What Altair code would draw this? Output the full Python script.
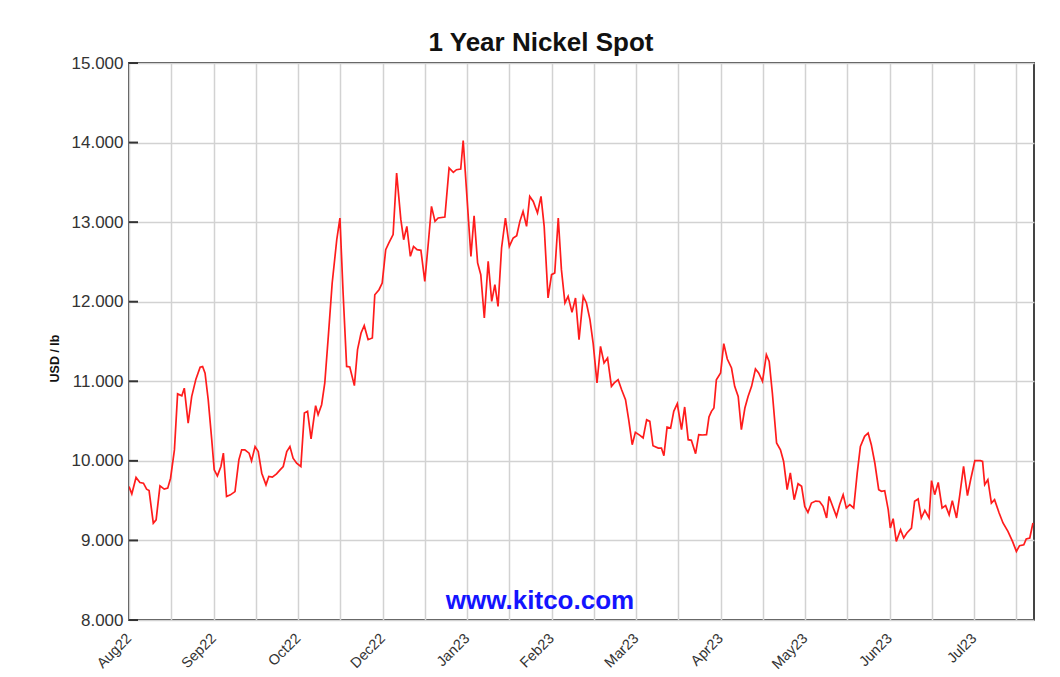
import altair as alt
import pandas as pd

# ---------------- text ----------------
title_text = "1 Year Nickel Spot"
y_title = "USD / lb"
watermark_text = "www.kitco.com"

# x axis: trading-day index; a grid line every 12 days, a month label every 24
month_labels = ["Aug22", "Sep22", "Oct22", "Dec22", "Jan23", "Feb23",
                "Mar23", "Apr23", "May23", "Jun23", "Jul23"]
grid_step = 12
label_step = 24
day_max = 257

y_ticks = [8000, 9000, 10000, 11000, 12000, 13000, 14000, 15000]

# ---------------- series ----------------
days = [
    0.0, 0.8, 2.0, 3.1, 4.1, 5.0, 5.7, 6.9, 7.7, 8.8, 10.0, 11.0, 11.8, 12.9, 13.8,
    15.0, 15.7, 16.8, 17.8, 19.0, 20.2, 20.9, 21.6, 22.5, 23.5, 24.2, 25.1, 26.1,
    26.8, 27.7, 28.8, 30.1, 31.2, 32.0, 32.9, 34.1, 34.8, 35.8, 36.7, 37.7, 38.9,
    39.7, 40.7, 41.9, 42.9, 43.8, 44.8, 45.7, 46.6, 47.6, 48.8,
    49.8, 50.7, 51.7, 53.0, 53.7, 54.7, 55.6, 56.6, 57.7, 59.0, 59.9, 60.8, 61.8,
    62.7, 64.0, 64.9, 65.9, 66.8, 67.9, 69.1, 69.8, 71.0, 71.9, 72.9, 73.8, 75.0,
    76.0, 77.2, 78.0, 78.9, 79.9, 80.8, 81.8, 82.9, 84.0, 85.0, 85.9, 86.9, 87.8,
    89.7, 90.9, 92.1, 93.0, 94.2, 94.9,
    97.1, 98.0, 99.0, 99.9, 100.9, 102.0, 103.0, 103.9, 104.8, 105.8, 106.9, 108.0,
    109.1, 110.1, 111.0, 111.9, 112.9, 113.8, 114.8, 116.0, 117.0, 117.9, 119.0,
    120.0, 120.9, 121.9, 122.8, 123.8, 124.7, 125.8, 126.8, 127.8, 129.0, 129.9,
    130.9, 131.8, 132.9, 133.9, 134.9, 135.9, 137.0, 137.8, 138.9, 139.9, 141.0,
    141.9, 142.9, 143.8, 145.1, 146.0,
    147.0, 147.9, 148.8, 150.3, 151.2, 151.9, 152.8, 153.8, 154.7, 155.7, 156.9,
    157.8, 158.8, 159.7, 160.9, 161.8, 162.9, 164.0, 164.7, 165.4, 166.1, 166.8,
    168.0, 168.9, 169.9, 171.1, 172.0, 173.0, 173.9, 174.9, 175.8, 176.8, 177.9,
    178.8, 179.9, 181.0, 181.8, 182.7, 183.9, 185.0, 185.9, 186.9, 187.8, 188.9,
    190.0, 191.0, 191.9, 192.8, 193.8, 195.0, 196.1,
    197.1, 198.1, 198.8, 199.9, 200.9, 201.8, 202.8, 203.7, 204.7, 205.8, 206.8,
    207.7, 208.9, 209.9, 210.8, 211.8, 212.9, 213.7, 214.6, 215.6, 216.2, 217.0,
    217.9, 219.1, 220.0, 220.9, 222.2, 223.1, 224.1, 225.0, 226.0, 227.2, 227.9,
    228.8, 229.8, 230.9, 231.9, 232.9, 233.8, 235.0, 235.9, 237.0, 238.1, 239.0,
    240.2, 241.8, 242.4, 243.0, 243.9, 244.9, 245.8, 247.1, 248.2, 249.6, 250.9,
    252.0, 252.9, 254.1, 254.8, 255.8, 256.7,
]

prices = [
    9677, 9585, 9791, 9728, 9719, 9644, 9627, 9217, 9259, 9686, 9644, 9657, 9782, 10138, 10842,
    10817, 10913, 10474, 10808, 11027, 11177, 11185, 11102, 10767, 10264, 9887, 9811, 9929,
    10097, 9552, 9573, 9614, 10013, 10138, 10138, 10097, 10000, 10180, 10117, 9845, 9698,
    9803, 9795, 9837, 9887, 9929, 10117, 10180, 10034, 9971, 9929,
    10602, 10622, 10275, 10693, 10580, 10706, 10979, 11564, 12235, 12779, 13052, 12110, 11187,
    11180, 10945, 11397, 11607, 11699, 11523, 11544, 12088, 12151, 12235, 12654, 12738, 12843,
    13618, 13031, 12779, 12947, 12570, 12695, 12654, 12646, 12256, 12738, 13198, 13010, 13052,
    13065, 13680, 13625, 13659, 13667, 14024,
    12570, 13081, 12487, 12340, 11795, 12507, 12004, 12214, 11941, 12675, 13052, 12695,
    12801, 12830, 13010, 13135, 12947, 13323, 13260, 13115, 13323, 12947, 12047,
    12340, 12361, 13052, 12403, 11984, 12067, 11866, 12047, 11523, 12067, 11984,
    11774, 11481, 10979, 11438, 11230, 11293, 10936, 10979, 11020, 10894, 10769,
    10517, 10203, 10358, 10320, 10287,
    10517, 10496, 10190, 10161, 10161, 10065, 10425, 10412, 10622, 10718, 10392,
    10677, 10266, 10258, 10090, 10329, 10325, 10329, 10551, 10622, 10664, 11020,
    11104, 11473, 11280, 11167, 10936, 10810, 10392, 10664, 10810, 10936, 11154,
    11104, 10999, 11334, 11250, 10853, 10225, 10140, 9993, 9638, 9848, 9512,
    9713, 9680, 9428, 9352, 9470, 9495, 9490,
    9428, 9282, 9553, 9420, 9302, 9449, 9575, 9408, 9449, 9408, 9848,
    10182, 10308, 10350, 10203, 9973, 9638, 9617, 9625, 9386, 9156, 9273,
    8988, 9135, 9031, 9094, 9156, 9491, 9521, 9282, 9378, 9282, 9751,
    9575, 9729, 9408, 9437, 9323, 9500, 9282, 9562, 9930, 9562, 9763,
    10002, 10002, 9993, 9700, 9763, 9470, 9512, 9345, 9219, 9114, 8988,
    8862, 8934, 8946, 9018, 9031, 9219,
]

df = pd.DataFrame({"day": days, "price": prices})
tick_df = pd.DataFrame({"price": y_ticks})
wm_df = pd.DataFrame({"t": [watermark_text]})

FONT = "Liberation Sans"
x_values = list(range(0, day_max, grid_step))
labels_js = "[" + ",".join("'" + m + "'" for m in month_labels) + "]"
x_label_expr = (f"datum.value % {label_step} == 0 ? "
                f"{labels_js}[floor(datum.value / {label_step})] : ''")
y_label_expr = "replace(format(datum.value, ','), ',', '.')"

x_scale = alt.Scale(domain=[0, day_max], nice=False, zero=False)
y_scale = alt.Scale(domain=[8000, 15000], nice=False, zero=False)

y_axis = alt.Axis(values=y_ticks, grid=True, ticks=False, domain=False,
                  labelExpr=y_label_expr, labelFontSize=17, labelColor="#333333",
                  labelFont=FONT, labelPadding=6,
                  title=y_title, titleFont=FONT, titleFontSize=12.5,
                  titleFontWeight="bold", titleColor="#111111", titlePadding=10,
                  titleY=295,
                  gridColor="#d2d2d2", gridWidth=1.5)

line = alt.Chart(df).mark_line(color="#ff1c1c", strokeWidth=1.7, clip=True).encode(
    x=alt.X("day:Q", scale=x_scale,
            axis=alt.Axis(values=x_values, grid=True, ticks=False, domain=False,
                          labelExpr=x_label_expr, labelAngle=315, labelAlign="right",
                          labelBaseline="middle", labelPadding=16, labelOverlap=False,
                          labelFontSize=14.5, labelColor="#333333", labelFont=FONT,
                          title=None, gridColor="#d2d2d2", gridWidth=1.5)),
    y=alt.Y("price:Q", scale=y_scale, axis=y_axis),
)

inner_ticks = alt.Chart(tick_df).mark_rule(color="#333333", strokeWidth=2).encode(
    y=alt.Y("price:Q", scale=y_scale, axis=y_axis),
    x=alt.value(0),
    x2=alt.value(9),
)

watermark = alt.Chart(wm_df).mark_text(
    font=FONT, fontSize=26, fontWeight="bold", color="#1414ff"
).encode(text="t:N", x=alt.value(411), y=alt.value(538))

chart = alt.layer(line, inner_ticks, watermark).properties(
    width=905,
    height=557,
    padding={"left": 121, "top": 55, "right": 18, "bottom": 52},
    autosize=alt.AutoSizeParams(type="none"),
    background="white",
    title=alt.TitleParams(title_text, font=FONT, fontSize=26, fontWeight="bold",
                          color="#111111", anchor="middle", frame="bounds",
                          offset=10, dy=12),
).configure_view(stroke="#444444", strokeWidth=2)

chart.save("out.html", embed_options={"renderer": "svg", "actions": False})
